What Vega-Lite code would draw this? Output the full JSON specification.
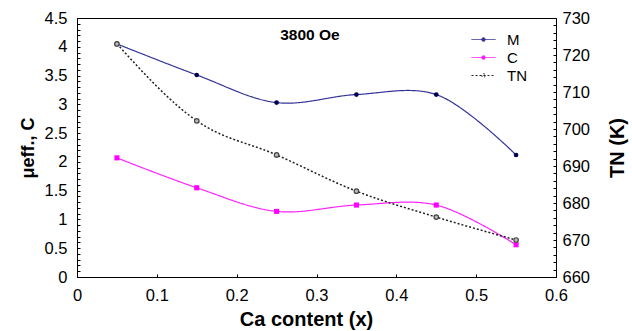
{
  "$schema": "https://vega.github.io/schema/vega-lite/v6.json",
  "width": 479,
  "height": 259,
  "autosize": {"type": "none"},
  "padding": {"left": 77, "top": 18, "right": 76, "bottom": 54},
  "background": "white",
  "config": {
    "view": {"stroke": "black", "strokeWidth": 1},
    "font": "Liberation Sans",
    "axis": {
      "domainColor": "black", "tickColor": "black", "labelColor": "black", "titleColor": "black",
      "labelFont": "Liberation Sans", "labelFontSize": 16.5, "titleFont": "Liberation Sans",
      "titleFontSize": 20, "titleFontWeight": "bold", "grid": false, "tickSize": -3,
      "labelFlush": false, "labelOverlap": false
    }
  },
  "data": {"values": [
    {"x": 0.05, "series": "M", "v": 4.05},
    {"x": 0.15, "series": "M", "v": 3.51},
    {"x": 0.25, "series": "M", "v": 3.03},
    {"x": 0.35, "series": "M", "v": 3.17},
    {"x": 0.45, "series": "M", "v": 3.17},
    {"x": 0.55, "series": "M", "v": 2.12},
    {"x": 0.05, "series": "C", "v": 2.07},
    {"x": 0.15, "series": "C", "v": 1.55},
    {"x": 0.25, "series": "C", "v": 1.14},
    {"x": 0.35, "series": "C", "v": 1.25},
    {"x": 0.45, "series": "C", "v": 1.25},
    {"x": 0.55, "series": "C", "v": 0.56},
    {"x": 0.05, "series": "TN", "v": 723},
    {"x": 0.15, "series": "TN", "v": 702.2},
    {"x": 0.25, "series": "TN", "v": 693},
    {"x": 0.35, "series": "TN", "v": 683.2},
    {"x": 0.45, "series": "TN", "v": 676.2},
    {"x": 0.55, "series": "TN", "v": 670}
  ]},
  "layer": [
    {
      "encoding": {
        "x": {"field": "x", "type": "quantitative", "scale": {"domain": [0, 0.6], "nice": false},
          "axis": {"title": "Ca content (x)", "values": [0, 0.05, 0.1, 0.15, 0.2, 0.25, 0.3, 0.35, 0.4, 0.45, 0.5, 0.55, 0.6],
            "format": ".2~f", "labelOverlap": false, "labelFlush": false,
            "labelExpr": "(round(datum.value*100) % 10 == 0) ? datum.label : ''", "labelPadding": 13, "titlePadding": 6,
            "titleX": 229}},
        "y": {"field": "v", "type": "quantitative", "scale": {"domain": [0, 4.5], "nice": false},
          "axis": {"title": "μeff., C", "titleFontSize": 18, "values": [0,0.1,0.2,0.3,0.4,0.5,0.6,0.7,0.8,0.9,1,1.1,1.2,1.3,1.4,1.5,1.6,1.7,1.8,1.9,2,2.1,2.2,2.3,2.4,2.5,2.6,2.7,2.8,2.9,3,3.1,3.2,3.3,3.4,3.5,3.6,3.7,3.8,3.9,4,4.1,4.2,4.3,4.4,4.5],
            "format": ".1~f", "labelOverlap": false, "labelFlush": false,
            "labelExpr": "(round(datum.value*10) % 5 == 0) ? datum.label : ''", "labelPadding": 13, "titlePadding": 7}}
      },
      "layer": [
        {
          "transform": [{"filter": "datum.series !== 'TN'"}],
          "mark": {"type": "line", "interpolate": "catmull-rom", "strokeWidth": 1.2},
          "encoding": {
            "color": {"field": "series", "type": "nominal",
              "scale": {"domain": ["M", "C", "TN"], "range": ["#34349a", "#ff22ff", "#222222"]},
              "legend": {"title": null, "orient": "none", "legendX": 399, "legendY": 14,
                "symbolType": "M-2,0H2M0.3,0A0.3,0.3,0,1,1,-0.3,0A0.3,0.3,0,1,1,0.3,0",
                "symbolSize": 144, "symbolStrokeWidth": 1, "labelFontSize": 15, "labelColor": "black",
                "labelOffset": 16, "rowPadding": 2,
                "encode": {"symbols": {"update": {"fill": {"signal": "datum.value == 'TN' ? 'white' : scale('color', datum.value)"}}}}}},
            "strokeDash": {"field": "series", "type": "nominal",
              "scale": {"domain": ["M", "C", "TN"], "range": [[1, 0], [1, 0], [2, 2]]},
              "legend": {"title": null}}
          }
        },
        {
          "transform": [{"filter": "datum.series === 'M'"}],
          "mark": {"type": "point", "filled": true, "shape": "circle", "size": 22, "color": "#000055", "opacity": 1}
        },
        {
          "transform": [{"filter": "datum.series === 'C'"}],
          "mark": {"type": "point", "filled": true, "shape": "square", "size": 26, "color": "#ff00ff", "opacity": 1}
        },
        {
          "transform": [{"filter": "datum.series === 'M' && datum.x == 0.05"}],
          "mark": {"type": "text", "text": "3800 Oe", "font": "Liberation Sans", "fontSize": 15.5, "fontWeight": "bold", "color": "black", "dx": 193, "dy": -9}
        }
      ]
    },
    {
      "transform": [{"filter": "datum.series === 'TN'"}],
      "encoding": {
        "x": {"field": "x", "type": "quantitative"},
        "y": {"field": "v", "type": "quantitative", "scale": {"domain": [660, 730], "nice": false},
          "axis": {"orient": "right", "title": "TN (K)", "titleAngle": -90, "format": "d", "labelOverlap": false, "labelFlush": false,
            "values": [660,662,664,666,668,670,672,674,676,678,680,682,684,686,688,690,692,694,696,698,700,702,704,706,708,710,712,714,716,718,720,722,724,726,728,730],
            "labelExpr": "(datum.value % 10 == 0) ? datum.label : ''", "labelPadding": 9, "titlePadding": 38}}
      },
      "layer": [
        {
          "mark": {"type": "line", "interpolate": "monotone", "strokeWidth": 1.5},
          "encoding": {
            "color": {"field": "series", "type": "nominal"},
            "strokeDash": {"field": "series", "type": "nominal"}
          }
        },
        {
          "mark": {"type": "point", "filled": false, "shape": "circle", "size": 20, "stroke": "#444444", "strokeWidth": 1.2, "fill": "#bbbbbb", "opacity": 1}
        }
      ]
    }
  ],
  "resolve": {"scale": {"y": "independent"}}
}
